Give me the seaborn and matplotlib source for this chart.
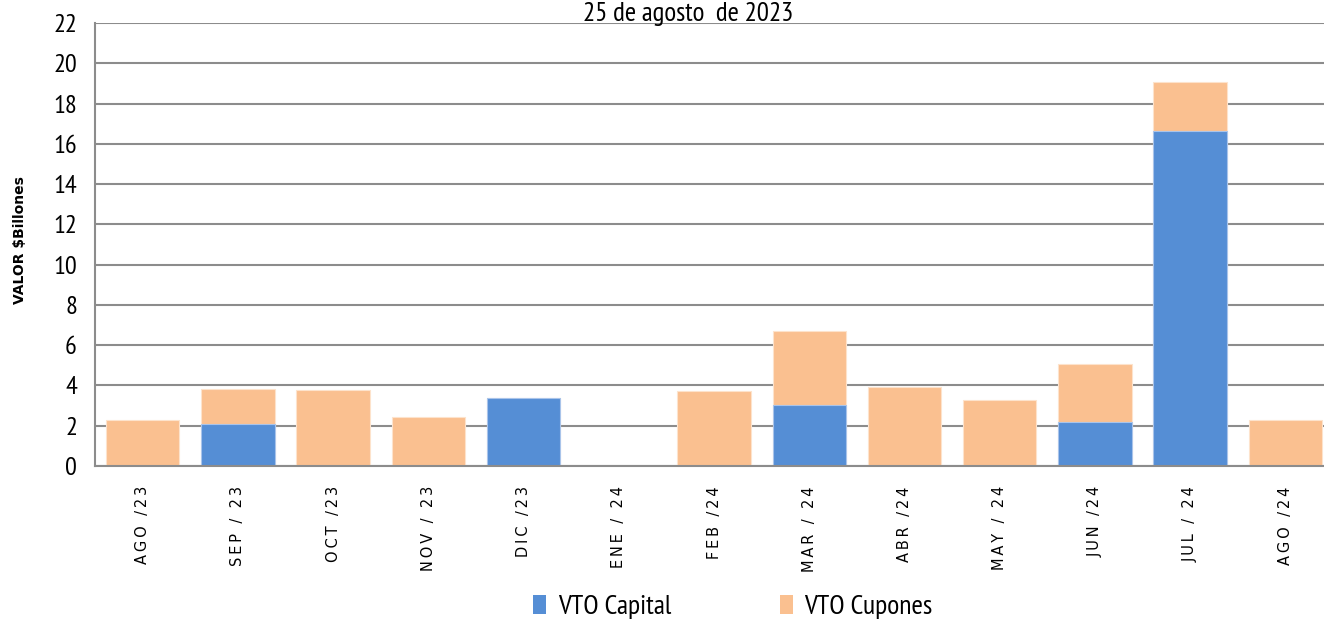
import matplotlib
matplotlib.use("Agg")
import matplotlib.pyplot as plt
from matplotlib.patches import Patch
from matplotlib.ticker import FixedLocator
import seaborn as sns
import pandas as pd

# Monthly maturities (billions of pesos)
months = ["AGO /23", "SEP / 23", "OCT /23", "NOV / 23", "DIC /23", "ENE / 24",
          "FEB /24", "MAR / 24", "ABR /24", "MAY / 24", "JUN /24", "JUL / 24", "AGO /24"]
capital = [0.0, 2.09, 0.0, 0.0, 3.36, 0.0, 0.0, 3.03, 0.0, 0.0, 2.20, 16.63, 0.0]
cupones = [2.28, 1.72, 3.77, 2.42, 0.0, 0.0, 3.74, 3.67, 3.94, 3.28, 2.86, 2.44, 2.28]

series_names = ["VTO Capital", "VTO Cupones"]
yticks = list(range(0, 23, 2))
title = "25 de agosto  de 2023"
ylabel = "VALOR \\$Billones"

BLUE = "#558ED5"
ORANGE = "#FAC090"
GRID = "#8C8C8C"
NARROW = ["PT Sans Narrow", "DejaVu Sans"]

df = pd.DataFrame({"mes": months, "capital": capital, "cupones": cupones})
df["total"] = df["capital"] + df["cupones"]

sns.set_style("white")
plt.rcParams["text.color"] = "black"
fig = plt.figure(figsize=(13.24, 6.22), dpi=100)
ax = fig.add_axes([95 / 1324, 156 / 622, 1238 / 1324, 443 / 622])

# Stacked bars: full height in orange, capital portion drawn over it in blue
sns.barplot(data=df, x="mes", y="total", color=ORANGE, saturation=1, width=0.77,
            edgecolor="#FDE3CC", linewidth=0.8, ax=ax, order=months)
sns.barplot(data=df, x="mes", y="capital", color=BLUE, saturation=1, width=0.77,
            edgecolor="#A9C4EA", linewidth=0.8, ax=ax, order=months)

ax.set_xlim(-0.5, len(months) - 0.5)
ax.set_ylim(0, 22)
ax.set_yticks(yticks)
ax.set_yticklabels([str(v) for v in yticks], family=NARROW, fontsize=19, color="black")
ax.yaxis.grid(True, color=GRID, linewidth=1.5)
ax.set_axisbelow(True)

# Category boundaries carry the tick marks, labels sit at the bar centres
ax.xaxis.set_major_locator(FixedLocator([i - 0.5 for i in range(len(months) + 1)]))
ax.xaxis.set_minor_locator(FixedLocator(list(range(len(months)))))
ax.set_xticklabels([], minor=False)
spaced = ["\u2009".join(list(m)) for m in months]
ax.set_xticklabels(spaced, minor=True, rotation=90, fontsize=10.5,
                   family="DejaVu Sans", va="top", ha="center", color="black")
ax.tick_params(axis="x", which="major", length=5, width=1.2, color=GRID, direction="out")
ax.tick_params(axis="x", which="minor", length=0, pad=14.5)
ax.tick_params(axis="y", length=5, width=1.2, color=GRID, direction="out", pad=8)
ax.set_xlabel("")
ax.set_ylabel("")

for side in ["top", "right"]:
    ax.spines[side].set_visible(False)
for side in ["left", "bottom"]:
    ax.spines[side].set_color(GRID)
    ax.spines[side].set_linewidth(1.5)

fig.text(688 / 1324, 1 - 20.5 / 622, title, ha="center", va="baseline",
         family=NARROW, fontsize=19.5, color="black")
fig.text(20 / 1324, 1 - 240 / 622, ylabel, rotation=90, ha="center", va="center",
         family="DejaVu Sans", fontsize=10, fontweight="bold", color="black")

handles = [Patch(facecolor=BLUE, edgecolor="none"), Patch(facecolor=ORANGE, edgecolor="none")]
fig.legend(handles, series_names, loc="center", bbox_to_anchor=(733 / 1324, 1 - 607 / 622),
           ncol=2, frameon=False, prop={"family": NARROW, "size": 20},
           handlelength=0.47, handleheight=0.7, handletextpad=0.42, columnspacing=3.9)

fig.savefig("out.png", dpi=100)
